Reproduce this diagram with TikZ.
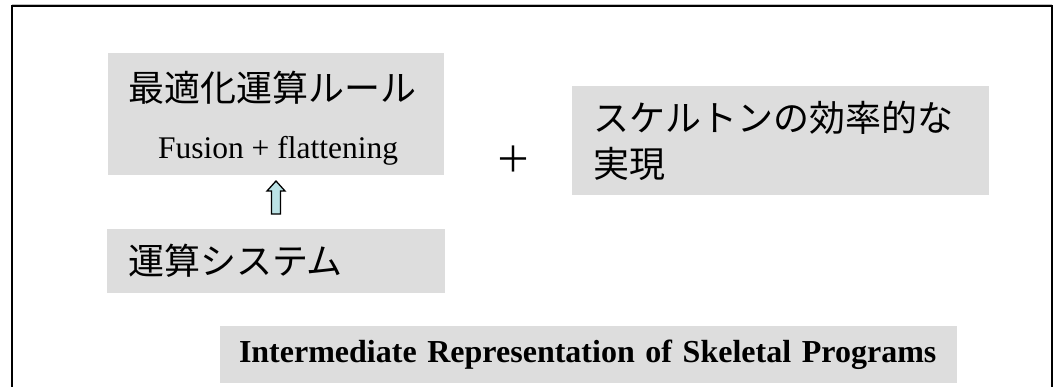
\documentclass[tikz,border=0pt]{standalone}
\usepackage{fontspec}
\setmainfont{Liberation Serif}
\newfontfamily\jpfont{Noto Sans CJK JP}
\usepackage{tikz}
\usetikzlibrary{calc}
\usetikzlibrary{positioning}

\definecolor{boxgray}{RGB}{221,221,221}
\definecolor{arrowcyan}{RGB}{187,226,229}

\tikzset{
  graybox/.style={fill=boxgray, inner sep=0pt, outer sep=0pt},
  jplabel/.style={font=\jpfont\fontsize{36}{46}\selectfont},
  textbox/.style={graybox, jplabel, align=left, inner xsep=21pt},
  blockarrow/.style={draw=black, line width=1.3pt, fill=arrowcyan, line join=miter},
}

\begin{document}
\begin{tikzpicture}[x=1pt, y=-1pt]
                \useasboundingbox (0,0) rectangle (1059,386);
                \clip (0,0) rectangle (1059,386);
                % frame
                \draw[black!25, line width=1pt] (12,4.5) -- (1052,4.5);
                \draw[line width=1.6pt] (12,400) -- (12,6) -- (1052,6) -- (1052,400);

                % left column
                \node[graybox, minimum width=336pt, minimum height=122pt] (opt) at (276,114) {};
                \node[jplabel, inner sep=0pt, anchor=west] (optTitle) at (128,88) {最適化運算ルール};
                \node[font=\fontsize{31.5}{36}\selectfont, inner sep=0pt, anchor=base] (fusion) at (278,158) {Fusion + flattening};
                \node[textbox, text width=296pt, minimum height=64pt] (calc) at (276,261) {運算システム};
                \draw[blockarrow] ($(opt.south)+(0,6)$) -- ++(9,10) -- ++(-4.5,0)
                    -- ($(calc.north)+(4.5,-15)$) -- ++(-9,0)
                    -- ($(opt.south)+(-4.5,16)$) -- ++(-4.5,0) -- cycle;

                % right column
                \node[jplabel, inner sep=0pt] (plus) at (513,159) {＋};
                \node[textbox, text width=375pt, minimum height=109pt] (skel) at (780.5,140.5) {スケルトンの効率的な\\実現};

                % bottom
                \node[graybox, font=\bfseries\fontsize{32}{36}\selectfont, align=left, inner xsep=19pt,
                      text width=699pt, minimum height=57pt] (ir) at (588.5,354.5) {Intermediate Representation of Skeletal Programs};
            \end{tikzpicture}
\end{document}
